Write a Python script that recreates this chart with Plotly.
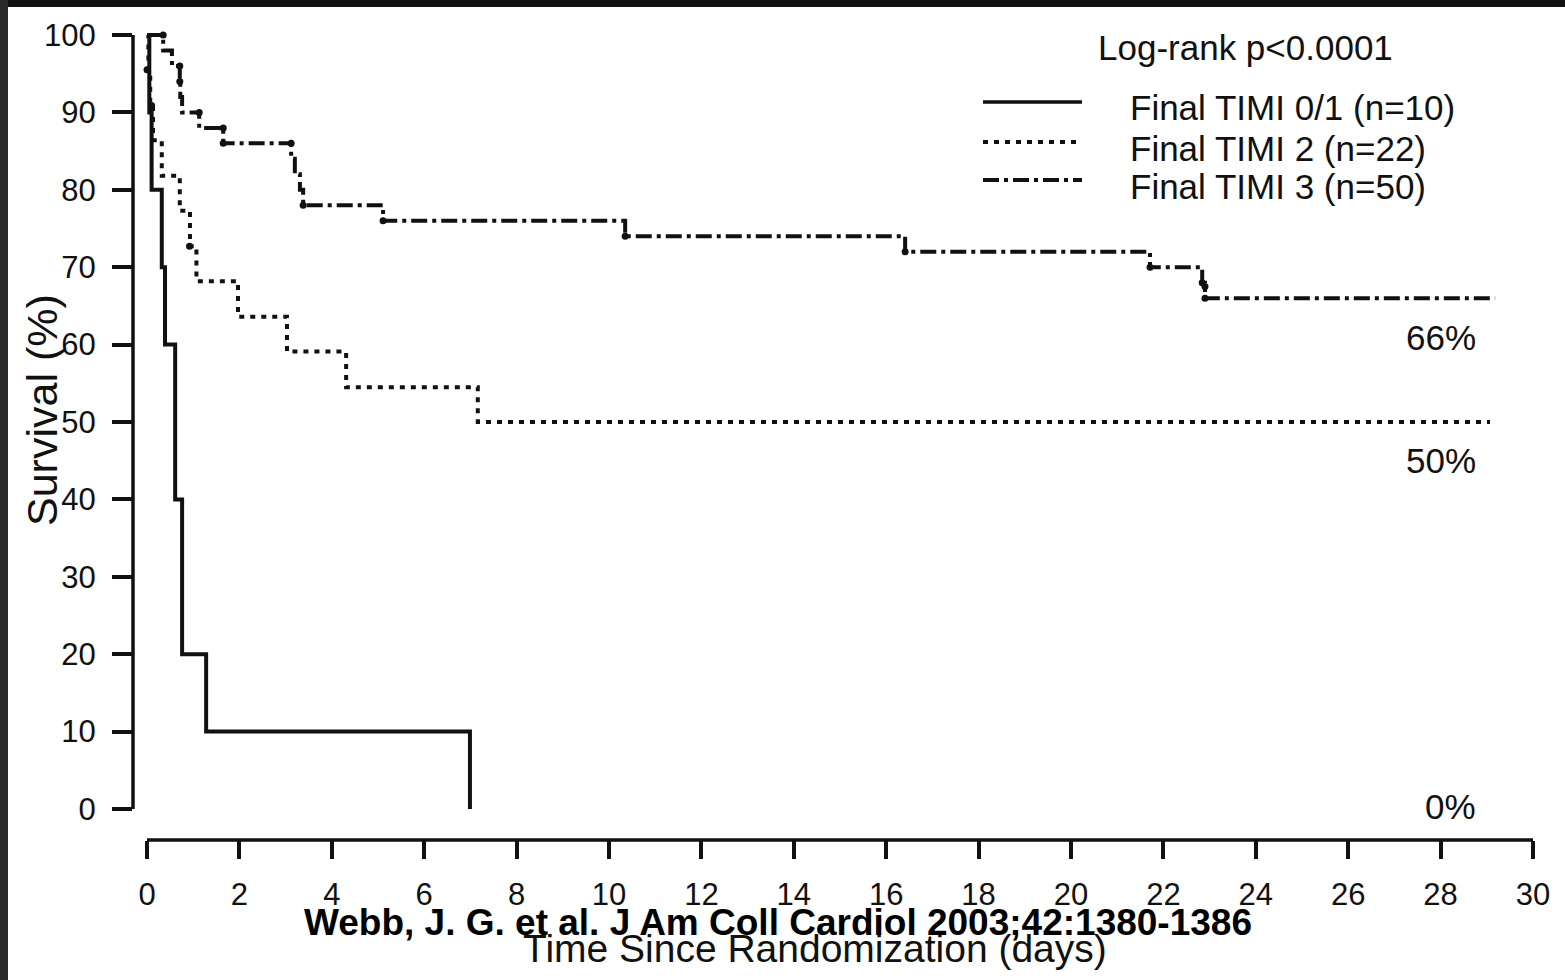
import plotly.graph_objects as go

# ---------------- data ----------------
timi01_t = [0, 0.05, 0.10, 0.32, 0.39, 0.61, 0.61, 0.76, 0.76, 1.28, 6.99]
timi01_s = [100, 90, 80, 70, 60, 50, 40, 30, 20, 10, 0]

timi2_t = [0, 0.03, 0.07, 0.13, 0.32, 0.71, 0.93, 1.07, 1.97, 3.03, 4.31, 7.16, 29.07]
timi2_s = [100, 95.5, 90.9, 86.4, 81.8, 77.3, 72.7, 68.2, 63.6, 59.1, 54.5, 50.0, 50.0]

timi3_t = [0, 0.35, 0.54, 0.71, 0.72, 0.76, 1.13, 1.65, 3.12, 3.20, 3.31, 3.38,
           5.11, 10.35, 16.41, 21.71, 22.84, 22.90, 29.18]
timi3_s = [100, 98, 96, 94, 92, 90, 88, 86, 84, 82, 80, 78,
           76, 74, 72, 70, 68, 66, 66]

timi3_dot_t = [0.35, 0.71, 0.71, 1.13, 1.65, 1.65, 3.12, 3.38, 5.11, 10.35, 16.41, 21.71, 22.84, 22.90, 22.90]
timi3_dot_s = [100, 96, 94, 90, 88, 86, 86, 78, 76, 74, 72, 70, 68, 67.5, 66]
timi2_dot_t = [0.0, 0.10, 0.92]
timi2_dot_s = [95.5, 90.9, 72.7]

series_names = ["Final TIMI 0/1 (n=10)", "Final TIMI 2 (n=22)", "Final TIMI 3 (n=50)"]
end_labels = ["0%", "50%", "66%"]
end_values = [0, 50, 66]
x_ticks = list(range(0, 31, 2))
y_ticks = list(range(0, 101, 10))

# ---------------- layout geometry ----------------
W, H = 1565, 980
L, R, T, B = 133, 32, 25, 140
PW, PH = W - L - R, H - T - B


def px(xp):
    return (xp - L) / PW


def py(yp):
    return (H - B - yp) / PH


FONT = "Arial, Liberation Sans, Helvetica, sans-serif"
INK = "#111111"
LW = 4
DOT = "5px,6px"
DASHDOT = "16px,5px,4px,5px"

fig = go.Figure()

fig.add_trace(go.Scatter(x=timi01_t, y=timi01_s, mode="lines", line_shape="hv",
                         line=dict(color=INK, width=LW), name=series_names[0], showlegend=False))
fig.add_trace(go.Scatter(x=timi2_t, y=timi2_s, mode="lines", line_shape="hv",
                         line=dict(color=INK, width=LW, dash=DOT), name=series_names[1], showlegend=False))
fig.add_trace(go.Scatter(x=timi3_t, y=timi3_s, mode="lines", line_shape="hv",
                         line=dict(color=INK, width=LW, dash=DASHDOT), name=series_names[2], showlegend=False))
fig.add_trace(go.Scatter(x=timi3_dot_t, y=timi3_dot_s, mode="markers",
                         marker=dict(color=INK, size=7), showlegend=False, hoverinfo="skip"))
fig.add_trace(go.Scatter(x=timi2_dot_t, y=timi2_dot_s, mode="markers",
                         marker=dict(color=INK, size=7), showlegend=False, hoverinfo="skip"))

shapes = []
# axis lines (R style: separate axes)
shapes.append(dict(type="line", xref="paper", yref="y", x0=0, x1=0, y0=0, y1=100,
                   line=dict(color=INK, width=3.5)))
shapes.append(dict(type="line", xref="x", yref="paper", x0=0, x1=30, y0=0, y1=0,
                   line=dict(color=INK, width=3.5)))

# legend samples
leg_y = [102, 142, 180]
leg_dash = ["solid", DOT, DASHDOT]
for yy, dd in zip(leg_y, leg_dash):
    shapes.append(dict(type="line", xref="paper", yref="paper", x0=px(983), x1=px(1082),
                       y0=py(yy), y1=py(yy), line=dict(color=INK, width=LW if dd != "solid" else 3.5, dash=dd)))

# dark frame of the picture
shapes.append(dict(type="rect", xref="paper", yref="paper", x0=px(0), x1=px(W), y0=py(0), y1=py(7),
                   fillcolor="#111111", line=dict(width=0), layer="above"))
shapes.append(dict(type="rect", xref="paper", yref="paper", x0=px(0), x1=px(8), y0=py(0), y1=py(H),
                   fillcolor="#2a2a2a", line=dict(width=0), layer="above"))

annotations = []
annotations.append(dict(text="Log-rank p<0.0001", xref="paper", yref="paper", x=px(1096), y=py(48),
                        xanchor="left", yanchor="middle", showarrow=False,
                        font=dict(family=FONT, size=35, color=INK)))
text_y = [108, 148, 187]
for name, yy in zip(series_names, text_y):
    annotations.append(dict(text=name, xref="paper", yref="paper", x=px(1128), y=py(yy),
                            xanchor="left", yanchor="middle", showarrow=False,
                            font=dict(family=FONT, size=35, color=INK)))
end_px = {0: 806, 50: 460, 66: 337}
for lab, v in zip(end_labels, end_values):
    annotations.append(dict(text=lab, xref="paper", yref="paper", x=px(1478), y=py(end_px[v]),
                            xanchor="right", yanchor="middle", showarrow=False,
                            font=dict(family=FONT, size=35, color=INK)))
annotations.append(dict(text="Survival (%)", xref="paper", yref="paper", x=px(42), y=py(410),
                        textangle=-90, xanchor="center", yanchor="middle", showarrow=False,
                        font=dict(family=FONT, size=43, color=INK)))
annotations.append(dict(text="Time Since Randomization (days)", xref="paper", yref="paper",
                        x=px(815), y=py(948), xanchor="center", yanchor="middle", showarrow=False,
                        font=dict(family=FONT, size=39, color=INK)))
annotations.append(dict(text="<b>Webb, J. G. et al. J Am Coll Cardiol 2003;42:1380-1386</b>",
                        xref="paper", yref="paper", x=px(778), y=py(922), xanchor="center",
                        yanchor="middle", showarrow=False,
                        font=dict(family=FONT, size=37, color="#000000")))

fig.update_layout(
    width=W, height=H,
    margin=dict(l=L, r=R, t=T, b=B),
    paper_bgcolor="white", plot_bgcolor="white",
    showlegend=False,
    shapes=shapes, annotations=annotations,
    xaxis=dict(range=[-14 / 46.2, 30], tickvals=x_ticks, ticktext=[str(v) for v in x_ticks],
               ticks="outside", ticklen=18, tickwidth=3.5, tickcolor=INK,
               showline=False, showgrid=False, zeroline=False, fixedrange=True,
               tickfont=dict(family=FONT, size=31, color=INK), ticklabelstandoff=9),
    yaxis=dict(range=[-31 / 7.74, 100 + 10 / 7.74], tickvals=y_ticks, ticktext=[str(v) for v in y_ticks],
               ticks="outside", ticklen=20, tickwidth=3.5, tickcolor=INK,
               showline=False, showgrid=False, zeroline=False, fixedrange=True,
               tickfont=dict(family=FONT, size=31, color=INK), ticklabelstandoff=10),
)

page_fix = ("document.body.style.margin='0';document.body.style.padding='0';"
            "document.body.style.overflow='hidden';"
            "document.documentElement.style.overflow='hidden';")

fig.write_html("out.html", post_script=page_fix, config={"displayModeBar": False})
